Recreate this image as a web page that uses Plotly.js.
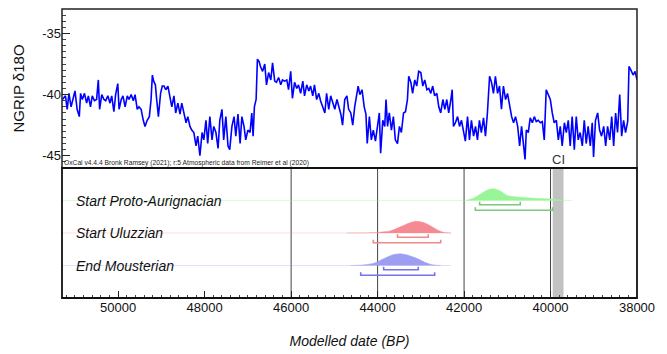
<!DOCTYPE html>
<html>
<head>
<meta charset="utf-8">
<script src="https://cdn.plot.ly/plotly-3.0.1.min.js"></script>
<style>html,body{margin:0;padding:0;background:#fff;}#chart{width:667px;height:354px;}</style>
</head>
<body>
<div id="chart"></div>
<script>
// NGRIP record (years BP, d18O permil)
const ngripYear = [51290,51220,51180,51140,51090,51040,51000,50950,50900,50870,50830,50780,50730,50690,50640,50600,50550,50500,50460,50430,50380,50330,50290,50240,50190,50150,50100,50060,50010,49980,49930,49890,49840,49790,49750,49700,49650,49610,49560,49520,49470,49420,49380,49330,49280,49240,49210,49180,49140,49110,49070,49020,48980,48940,48900,48850,48810,48760,48710,48670,48620,48570,48530,48480,48430,48390,48340,48300,48250,48200,48160,48110,48060,48020,47970,47930,47880,47830,47790,47740,47690,47650,47600,47560,47510,47460,47420,47370,47320,47280,47230,47180,47140,47090,47050,47000,46950,46910,46880,46850,46810,46780,46740,46710,46660,46610,46570,46520,46470,46430,46380,46340,46290,46240,46200,46150,46100,46060,46010,45970,45920,45870,45830,45780,45730,45690,45640,45590,45550,45500,45460,45410,45360,45320,45270,45220,45180,45130,45085,45040,44990,44940,44900,44850,44810,44760,44710,44670,44620,44575,44530,44480,44450,44410,44360,44310,44270,44240,44190,44145,44100,44050,44005,43960,43930,43880,43835,43805,43770,43730,43680,43635,43590,43540,43495,43450,43400,43355,43310,43280,43230,43190,43140,43095,43050,43000,42955,42910,42860,42815,42770,42725,42680,42630,42585,42540,42490,42445,42400,42355,42305,42275,42245,42200,42150,42105,42060,42015,41970,41920,41875,41830,41780,41735,41690,41645,41600,41550,41505,41460,41410,41365,41320,41275,41225,41180,41135,41090,41040,40995,40950,40900,40855,40810,40760,40715,40670,40620,40590,40560,40515,40470,40420,40375,40330,40285,40235,40190,40145,40100,40050,40005,39960,39915,39865,39820,39775,39730,39680,39635,39590,39545,39500,39450,39405,39360,39315,39265,39220,39175,39130,39080,39035,39005,38960,38910,38865,38820,38770,38725,38680,38630,38585,38540,38495,38450,38400,38355,38310,38265,38215,38185,38140,38090,38045,38000];
const ngripD18O = [-40.4,-40.1,-41.2,-39.9,-41.0,-40.3,-39.7,-41.2,-41.8,-39.9,-40.4,-39.9,-40.7,-40.1,-41.0,-40.1,-40.5,-40.4,-38.8,-41.2,-40.0,-40.4,-40.5,-40.1,-40.7,-40.1,-41.4,-40.0,-39.1,-41.2,-40.4,-40.1,-41.0,-40.1,-40.4,-40.0,-40.5,-40.0,-41.2,-41.0,-41.2,-42.1,-42.6,-42.1,-41.8,-40.4,-38.4,-38.9,-39.2,-40.4,-41.8,-39.9,-39.3,-39.3,-39.6,-39.3,-40.0,-41.0,-40.1,-41.5,-40.7,-41.6,-40.7,-41.5,-42.3,-41.8,-42.6,-42.9,-43.1,-44.2,-43.4,-45.0,-43.1,-43.7,-42.1,-44.0,-41.8,-43.7,-42.6,-43.1,-44.4,-42.1,-41.2,-43.7,-41.8,-44.2,-44.5,-42.6,-41.8,-43.4,-41.6,-44.0,-41.8,-42.6,-43.7,-42.9,-43.1,-41.5,-43.4,-41.0,-40.4,-37.1,-37.3,-37.7,-38.1,-37.5,-39.2,-38.2,-38.8,-37.4,-38.9,-39.0,-38.6,-39.2,-38.8,-38.9,-38.8,-39.6,-38.1,-40.3,-39.0,-39.5,-39.2,-39.9,-38.9,-40.1,-39.2,-39.7,-39.3,-40.1,-39.2,-40.4,-39.9,-40.5,-41.0,-41.5,-39.9,-41.2,-40.1,-40.7,-41.2,-40.4,-41.0,-41.6,-42.5,-40.4,-40.1,-41.2,-41.5,-42.5,-41.0,-40.1,-39.3,-40.0,-39.6,-41.0,-41.6,-44.0,-41.8,-43.7,-42.9,-43.8,-42.6,-41.5,-44.8,-42.1,-42.6,-40.4,-42.6,-41.5,-42.9,-41.8,-43.7,-44.0,-42.6,-43.1,-41.5,-41.4,-40.4,-38.5,-39.0,-39.9,-38.8,-39.3,-38.1,-38.2,-39.3,-38.8,-39.6,-39.5,-39.9,-39.3,-40.1,-39.9,-41.0,-41.5,-40.4,-41.2,-40.4,-41.5,-40.4,-39.6,-42.6,-42.3,-41.8,-42.6,-42.1,-42.9,-43.8,-41.8,-43.7,-42.1,-43.4,-42.6,-43.7,-42.1,-43.1,-41.9,-43.4,-41.5,-38.5,-39.0,-39.9,-38.5,-39.9,-39.3,-41.2,-39.3,-40.4,-39.9,-41.0,-41.8,-42.3,-41.8,-42.6,-44.2,-42.6,-44.5,-45.3,-42.9,-43.1,-41.9,-42.3,-41.8,-42.2,-42.1,-42.3,-42.2,-43.7,-39.6,-40.0,-40.4,-41.5,-42.3,-42.1,-43.7,-42.6,-44.2,-42.3,-43.1,-42.1,-44.2,-41.8,-44.5,-41.8,-43.7,-43.1,-44.2,-42.1,-44.0,-42.6,-44.2,-42.3,-45.1,-42.1,-41.5,-42.9,-43.4,-42.6,-44.2,-42.6,-43.7,-41.8,-44.2,-41.5,-43.1,-40.0,-43.4,-42.1,-43.1,-42.2,-37.7,-38.0,-38.4,-38.1,-38.8];

// Modelled boundaries (row labels, relative probability curves, 68.3% / 95.4% ranges)
const rowLabels = ["Start Proto-Aurignacian", "Start Uluzzian", "End Mousterian"];
const protoYears = [41960,41770,41610,41460,41310,41150,41000,40690,40380,40070,39840,39690];
const protoProb  = [0,0.22,0.58,0.89,1,0.78,0.42,0.28,0.19,0.14,0.08,0];
const uluzYears  = [44700,44390,44080,43850,43690,43460,43310,43110,42920,42770,42610,42460,42300];
const uluzProb   = [0,0.01,0.03,0.1,0.2,0.55,0.8,1,0.88,0.6,0.25,0.04,0];
const moustYears = [44620,44390,44080,43850,43690,43500,43310,43070,42880,42730,42540];
const moustProb  = [0,0.03,0.2,0.6,0.86,1,0.89,0.57,0.23,0.06,0];
const proto68 = [41640, 40700], proto95 = [41740, 39950];
const uluz68  = [43540, 42830], uluz95  = [44100, 42540];
const moust68 = [43860, 43060], moust95 = [44390, 42680];
const tailEnd = [39500, 42300, 42300];
const gridYears = [46000, 44000, 42000, 40000];
const ciBand = [39950, 39700];
const xRange = [51300, 38000];
const yTickVals = [-45, -40, -35];
const yTickText = ["-45", "-40", "-35"];

const rows = [
  {years: protoYears, prob: protoProb, r68: proto68, r95: proto95, base: 3, fill: '#98f598', tail: 'rgba(152,245,152,0.35)', br: '#7cc87c'},
  {years: uluzYears, prob: uluzProb, r68: uluz68, r95: uluz95, base: 2, fill: '#f58a92', tail: 'rgba(245,138,146,0.3)', br: '#f08a8a'},
  {years: moustYears, prob: moustProb, r68: moust68, r95: moust95, base: 1, fill: '#9d9df2', tail: 'rgba(157,157,242,0.3)', br: '#7474f0'}
];
const H = 0.36, off68 = 0.13, off95 = 0.30, tick = 0.09;

const traces = [{
  x: ngripYear, y: ngripD18O, xaxis: 'x', yaxis: 'y', mode: 'lines',
  line: {color: '#0000ff', width: 1.6}, hoverinfo: 'skip'
}];
rows.forEach((r, i) => {
  traces.push({x: [xRange[0], tailEnd[i]], y: [r.base, r.base], xaxis: 'x', yaxis: 'y2', mode: 'lines', line: {color: r.tail, width: 1}, hoverinfo: 'skip'});
  traces.push({x: r.years, y: r.prob.map(p => r.base + p * H), xaxis: 'x', yaxis: 'y2', mode: 'lines', fill: 'toself', fillcolor: r.fill, line: {color: r.fill, width: 0.5, shape: 'spline', smoothing: 0.8}, hoverinfo: 'skip'});
  [[r.r68, off68], [r.r95, off95]].forEach(([rg, off]) => {
    const yb = r.base - off;
    traces.push({x: [rg[0], rg[0], rg[1], rg[1]], y: [yb + tick, yb, yb, yb + tick], xaxis: 'x', yaxis: 'y2', mode: 'lines', line: {color: r.br, width: 1.6}, hoverinfo: 'skip'});
  });
});

const split = 130 / 289;
const shapes = [];
gridYears.forEach(g => shapes.push({type: 'line', xref: 'x', yref: 'y2 domain', x0: g, x1: g, y0: 0, y1: 1, line: {color: '#444', width: 1}, layer: 'below'}));
shapes.push({type: 'rect', xref: 'x', yref: 'y2 domain', x0: ciBand[0], x1: ciBand[1], y0: 0, y1: 1, fillcolor: '#c2c2c2', line: {width: 0}, layer: 'below'});
shapes.push({type: 'rect', xref: 'paper', yref: 'paper', x0: 0, x1: 1, y0: split, y1: 1, line: {color: '#222', width: 1.5}});
shapes.push({type: 'rect', xref: 'paper', yref: 'paper', x0: 0, x1: 1, y0: 0, y1: split, line: {color: '#111', width: 1.8}});

const font = 'Liberation Sans, Arial, Helvetica, sans-serif';
const annotations = rowLabels.map((t, i) => ({
  text: t, xref: 'paper', x: 0.02, xanchor: 'left', yref: 'y2', y: rows[i].base, yanchor: 'middle',
  showarrow: false, font: {family: font, size: 14, color: '#111', style: 'italic'}
}));
annotations.push({text: 'CI', xref: 'x', x: (ciBand[0] + ciBand[1]) / 2, yref: 'y', y: -45.3, yanchor: 'middle', showarrow: false, font: {family: font, size: 13, color: '#333'}});
annotations.push({text: 'OxCal v4.4.4 Bronk Ramsey (2021); r:5 Atmospheric data from Reimer et al (2020)', xref: 'paper', x: 0, xanchor: 'left', yref: 'paper', y: split, yanchor: 'bottom', yshift: -1, showarrow: false, font: {family: font, size: 6.7, color: '#222'}});

const layout = {
  width: 667, height: 354,
  margin: {l: 62, r: 30, t: 9, b: 56},
  paper_bgcolor: '#fff', plot_bgcolor: '#fff',
  showlegend: false,
  font: {family: font, color: '#111'},
  xaxis: {
    range: xRange, anchor: 'y2', showgrid: false, zeroline: false,
    tickmode: 'linear', tick0: 38000, dtick: 2000, ticks: 'inside', ticklen: 7, tickcolor: '#222', tickwidth: 1,
    minor: {dtick: 200, ticks: 'inside', ticklen: 3, tickcolor: '#444'},
    tickfont: {size: 13, color: '#111'}, tickformat: 'd',
    title: {text: 'Modelled date (BP)', font: {size: 14, style: 'italic', color: '#111'}, standoff: 22}
  },
  yaxis: {
    domain: [split, 1], range: [-46, -33], showgrid: false, zeroline: false,
    tickmode: 'array', tickvals: yTickVals, ticktext: yTickText, ticks: 'inside', ticklen: 8, tickcolor: '#222',
    minor: {tickmode: 'linear', tick0: -35, dtick: 0.5, ticks: 'inside', ticklen: 4, tickcolor: '#444'},
    tickfont: {size: 13, color: '#111'},
    title: {text: 'NGRIP δ18O', font: {size: 15, color: '#111'}, standoff: 13}
  },
  yaxis2: {
    domain: [0, split], range: [0, 4], showgrid: false, zeroline: false, showticklabels: false, ticks: ''
  },
  shapes: shapes,
  annotations: annotations
};

Plotly.newPlot('chart', traces, layout, {displayModeBar: false, staticPlot: true});
</script>
</body>
</html>
